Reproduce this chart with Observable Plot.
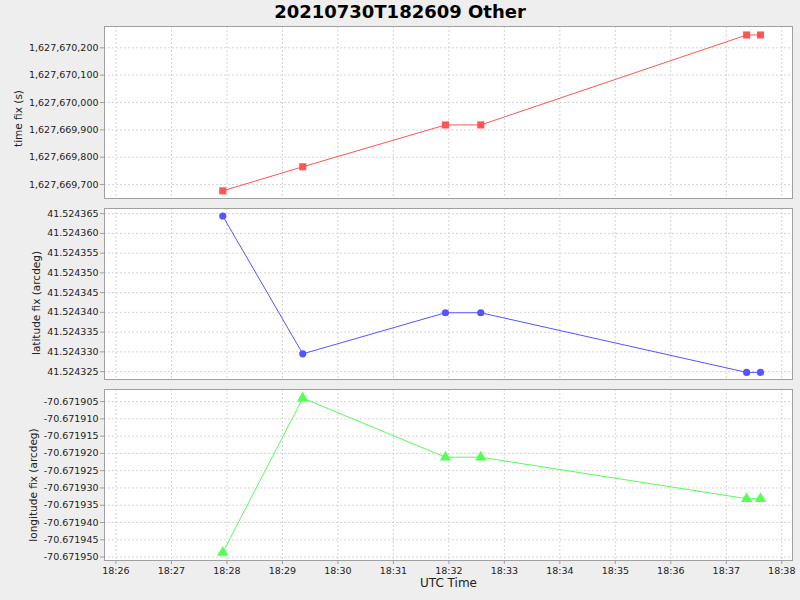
<!DOCTYPE html>
<html><head><meta charset="utf-8">
<script src="https://cdn.jsdelivr.net/npm/d3@7"></script>
<script src="https://cdn.jsdelivr.net/npm/@observablehq/plot@0.6"></script>
<style>
body{margin:0;background:#eeeeee;}
#wrap{position:relative;width:800px;height:600px;background:#eeeeee;font-family:"DejaVu Sans",sans-serif;overflow:hidden;}
#title{position:absolute;left:0;top:1px;width:800px;text-align:center;font-weight:bold;font-size:18px;line-height:22px;color:#000;}
.panel{position:absolute;left:0;}
</style></head><body>
<div id="wrap"><div id="title">20210730T182609 Other</div></div>
<script>
// ---- data ----
const utcTimes = ["18:27:55.5", "18:29:22.0", "18:31:56.3", "18:32:34.5", "18:37:22.0", "18:37:37.0"];
const timeFix = [1627669677, 1627669765, 1627669918, 1627669918, 1627670247, 1627670247];
const latFix = [41.5243644, 41.5243295, 41.5243399, 41.5243399, 41.5243248, 41.5243248];
const lonFix = [-70.6719487, -70.6719040, -70.6719211, -70.6719211, -70.6719331, -70.6719331];

const xTickLabels = ["18:26","18:27","18:28","18:29","18:30","18:31","18:32","18:33","18:34","18:35","18:36","18:37","18:38"];
const timeTicks = [1627669700, 1627669800, 1627669900, 1627670000, 1627670100, 1627670200];
const latTicks = [41.524325, 41.524330, 41.524335, 41.524340, 41.524345, 41.524350, 41.524355, 41.524360, 41.524365];
const lonTicks = [-70.671905, -70.671910, -70.671915, -70.671920, -70.671925, -70.671930, -70.671935, -70.671940, -70.671945, -70.671950];

const day = "2021-07-30T";
const xDomain = [new Date(day + "18:25:47.6Z"), new Date(day + "18:38:11.6Z")];
const xTickDates = xTickLabels.map(l => new Date(day + l + ":00Z"));
const rows = utcTimes.map((t, i) => ({t: new Date(day + t + "Z"), time: timeFix[i], lat: latFix[i], lon: lonFix[i]}));

const wrap = document.getElementById("wrap");
const MT = 6;
const gridStyle = {stroke: "#d4d4d4", strokeOpacity: 1, strokeDasharray: "2,2", strokeWidth: 1};

function panel({top, plotH, mb, key, yDomain, yTicks, yFmt, color, symbol, r, label, labelDx, labelDy, bottom}) {
  const marks = [
    Plot.frame({fill: "white", stroke: null}),
    Plot.gridX(xTickDates, gridStyle),
    Plot.gridY(yTicks, gridStyle),
    Plot.line(rows, {x: "t", y: key, stroke: color, strokeWidth: 1}),
    Plot.dot(rows, {x: "t", y: key, symbol, r, fill: color, stroke: null}),
    Plot.frame({stroke: "#a0a0a0", strokeWidth: 1}),
    Plot.axisY(yTicks, {tickFormat: yFmt, tickSize: 4, tickPadding: 2, stroke: "#a0a0a0", fill: "#222", label: null, fontSize: 9.5}),
    Plot.text([label], {frameAnchor: "left", textAnchor: "middle", rotate: -90, dx: -labelDx, dy: labelDy, fontSize: 10.5, fill: "#222", text: d => d})
  ];
  if (bottom) {
    marks.push(Plot.axisX(xTickDates, {tickFormat: d3.utcFormat("%H:%M"), tickSize: 4, tickPadding: 3, stroke: "#a0a0a0", fill: "#222", label: null, fontSize: 9.5}));
    marks.push(Plot.text(["UTC Time"], {frameAnchor: "bottom", dy: 26, fontSize: 12, fill: "#222", text: d => d}));
  }
  const svg = Plot.plot({
    width: 800,
    height: plotH + MT + mb,
    marginLeft: 104, marginRight: 8, marginTop: MT, marginBottom: mb,
    style: {background: "transparent", fontFamily: "DejaVu Sans", fontSize: "9.5px", overflow: "visible", color: "#222"},
    x: {type: "utc", domain: xDomain, axis: null},
    y: {domain: yDomain, axis: null},
    marks
  });
  svg.classList.add("panel");
  svg.style.position = "absolute";
  svg.style.top = (top - MT) + "px";
  svg.style.left = "0px";
  wrap.appendChild(svg);
}

panel({top: 26, plotH: 172, mb: 0, key: "time", yDomain: [1627669649, 1627670278], yTicks: timeTicks,
  yFmt: d3.format(","), color: "#ff5555", symbol: "square", r: 4, label: "time fix (s)", labelDx: 86, labelDy: 6, bottom: false});
panel({top: 208, plotH: 171, mb: 0, key: "lat", yDomain: [41.5243230, 41.5243663], yTicks: latTicks,
  yFmt: d => d.toFixed(6), color: "#5555ff", symbol: "circle", r: 3.6, label: "latitude fix (arcdeg)", labelDx: 68, labelDy: 9, bottom: false});
panel({top: 389, plotH: 171, mb: 40, key: "lon", yDomain: [-70.6719510, -70.6719015], yTicks: lonTicks,
  yFmt: d => d.toFixed(6), color: "#55ff55", symbol: "triangle", r: 4.2, label: "longitude fix (arcdeg)", labelDx: 71, labelDy: 10, bottom: true});
</script>
</body></html>
